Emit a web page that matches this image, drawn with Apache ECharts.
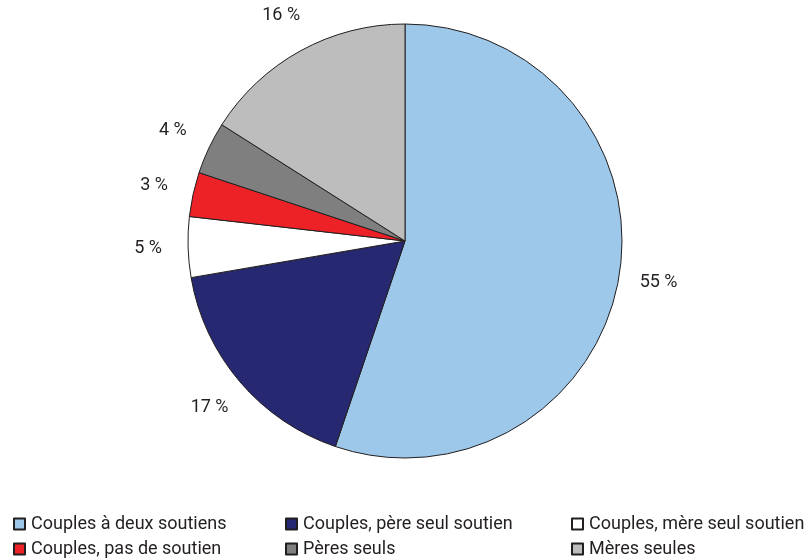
<!DOCTYPE html>
<html>
<head>
<meta charset="utf-8">
<script src="https://cdn.jsdelivr.net/npm/echarts@6/dist/echarts.min.js"></script>
<style>
  html, body { margin: 0; padding: 0; background: #fff; }
  #chart { width: 805px; height: 559px; }
</style>
</head>
<body>
<div id="chart"></div>
<script>
// parts in percent, clockwise from 12 o'clock
const categories = [
  "Couples à deux soutiens",
  "Couples, père seul soutien",
  "Couples, mère seul soutien",
  "Couples, pas de soutien",
  "Pères seuls",
  "Mères seules"
];
const shares = [55.2, 17.1, 4.5, 3.3, 3.9, 16.0];
const colors = ["#9dc8e9", "#262872", "#ffffff", "#ec2227", "#7f7f7f", "#bdbdbd"];

const font = "Roboto, 'Liberation Sans', sans-serif";
const textColor = "#231f20";

const chart = echarts.init(document.getElementById("chart"), null, { renderer: "canvas" });

const sliceData = categories.map((name, i) => ({
  name,
  value: shares[i],
  itemStyle: { color: colors[i] }
}));

// legend is laid out as three columns of two
const legendCol = (left, idx) => ({
  orient: "vertical",
  left,
  top: 515,
  height: 44,
  padding: 0,
  itemWidth: 11,
  itemHeight: 11,
  itemGap: 7,
  icon: "rect",
  data: idx.map(i => categories[i]),
  textStyle: { fontFamily: font, fontSize: 18, lineHeight: 18, color: textColor, padding: [0, 0, 0, 1] }
});

chart.setOption({
  backgroundColor: "#fff",
  animation: false,
  textStyle: { fontFamily: font },
  legend: [
    legendCol(13, [0, 3]),
    legendCol(285, [1, 4]),
    legendCol(571, [2, 5])
  ],
  series: [
    {
      type: "pie",
      center: [405, 241],
      radius: [0, 217],
      startAngle: 90,
      clockwise: true,
      silent: true,
      label: { show: false },
      labelLine: { show: false },
      itemStyle: { borderColor: "#231f20", borderWidth: 1 },
      data: sliceData
    },
    {
      // invisible ring used only to place the percentage labels
      type: "pie",
      center: [405, 241],
      radius: [243, 265],
      startAngle: 90,
      clockwise: true,
      silent: true,
      itemStyle: { color: "transparent", borderWidth: 0 },
      label: {
        show: true,
        position: "inside",
        fontFamily: font,
        fontSize: 18,
        color: textColor,
        formatter: p => Math.round(p.value) + " %"
      },
      labelLine: { show: false },
      data: categories.map((name, i) => ({ name, value: shares[i] }))
    }
  ]
});
</script>
</body>
</html>
